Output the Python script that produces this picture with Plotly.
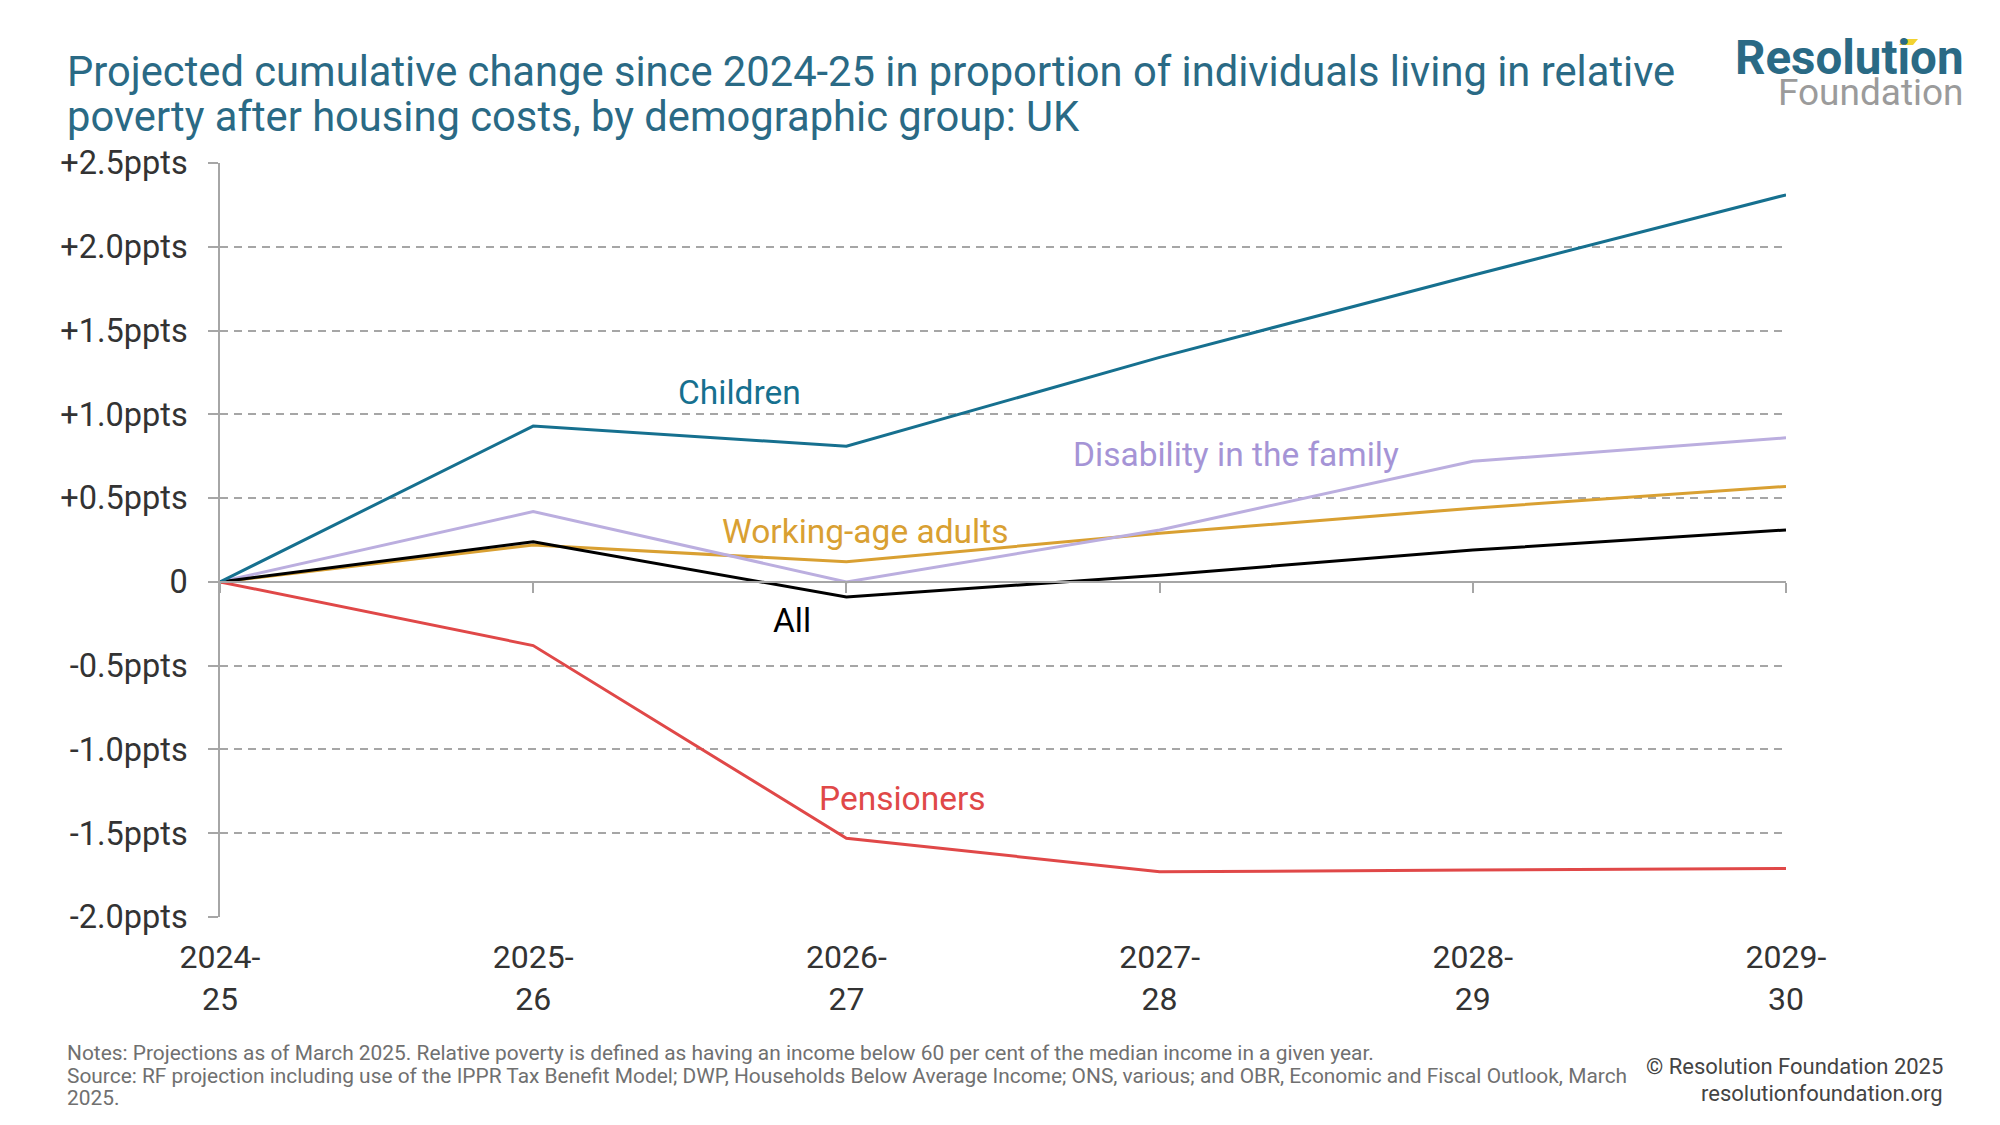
import plotly.graph_objects as go

years = ["2024-25", "2025-26", "2026-27", "2027-28", "2028-29", "2029-30"]
children = [0, 0.93, 0.81, 1.34, 1.83, 2.31]
disability = [0, 0.42, 0.0, 0.31, 0.72, 0.86]
working_age = [0, 0.22, 0.12, 0.29, 0.44, 0.57]
all_people = [0, 0.24, -0.09, 0.04, 0.19, 0.31]
pensioners = [0, -0.38, -1.53, -1.73, -1.72, -1.71]

y_ticks = [2.5, 2.0, 1.5, 1.0, 0.5, 0, -0.5, -1.0, -1.5, -2.0]

def fmt(v):
    if v == 0:
        return "0"
    return ("+" if v > 0 else "-") + f"{abs(v):.1f}ppts"

y_ticktext = [fmt(v) for v in y_ticks]
x_ticktext = [y.replace("-", "-<br>") for y in years]
xi = list(range(len(years)))

W, H = 2000, 1125
L, R, T, B = 212, 222, 155, 216

def px(x):
    return (x - L) / (W - L - R)

def py(y):
    return (H - B - y) / (H - T - B)

FONT = "Roboto"
series = [
    ("Working-age adults", working_age, "#d9a032", "#d9a032", 2.06, 0.30),
    ("Disability in the family", disability, "#bbaedf", "#a594d6", 3.245, 0.763),
    ("All", all_people, "#000000", "#000000", 1.826, -0.233),
    ("Pensioners", pensioners, "#e04848", "#e04848", 2.18, -1.29),
    ("Children", children, "#16708f", "#16708f", 1.66, 1.13),
]

fig = go.Figure()
for name, vals, col, lcol, lx, ly in series:
    fig.add_trace(go.Scatter(x=xi, y=vals, mode="lines", name=name,
                             line=dict(color=col, width=3), showlegend=False))
    fig.add_annotation(x=lx, y=ly, xref="x", yref="y", text=name, showarrow=False,
                       font=dict(family=FONT, size=33.5, color=lcol))

# invisible helper trace for bottom label axis
fig.add_trace(go.Scatter(x=xi, y=all_people, xaxis="x2", mode="lines",
                         line=dict(width=0), opacity=0, showlegend=False, hoverinfo="skip"))

ymin, ymax = -2.0, 2.5
fig.update_layout(
    width=W, height=H,
    paper_bgcolor="white", plot_bgcolor="white",
    margin=dict(l=L, r=R, t=T, b=B),
    font=dict(family=FONT, color="#333333"),
    xaxis=dict(range=[0, 5], anchor="free", position=(0 - ymin) / (ymax - ymin),
               tickmode="array", tickvals=xi, showticklabels=False,
               ticks="outside", ticklen=10, tickwidth=1.5, tickcolor="#a6a6a6",
               showline=True, linecolor="#a6a6a6", linewidth=1.5,
               showgrid=False, zeroline=False, fixedrange=True),
    xaxis2=dict(range=[0, 5], overlaying="x", anchor="y", side="bottom",
                tickmode="array", tickvals=xi, ticktext=x_ticktext,
                ticks="outside", ticklen=12, tickcolor="rgba(0,0,0,0)",
                showline=False, showgrid=False, zeroline=False,
                tickfont=dict(family=FONT, size=32, color="#333333")),
    yaxis=dict(range=[ymin, ymax], tickmode="array", tickvals=y_ticks, ticktext=y_ticktext,
               ticks="outside", ticklen=10, tickwidth=1.5, tickcolor="#a6a6a6",
               ticklabelstandoff=14,
               showline=True, linecolor="#a6a6a6", linewidth=1.5,
               showgrid=True, gridcolor="#a6a6a6", gridwidth=1.5, griddash="8px,6px",
               zeroline=False, tickfont=dict(family=FONT, size=32.5, color="#333333")),
)

def text_at(x, y, text, size, color, xanchor="left", yanchor="middle"):
    fig.add_annotation(x=px(x), y=py(y), xref="paper", yref="paper", text=text, showarrow=False,
                       xanchor=xanchor, yanchor=yanchor, align=xanchor if xanchor != "center" else "center",
                       font=dict(family=FONT, size=size, color=color))

# title
text_at(57, 63, "Projected cumulative change since 2024-25 in proportion of individuals living in relative",
        41.7, "#2a6a85")
text_at(57, 108, "poverty after housing costs, by demographic group: UK", 41.7, "#2a6a85")

# logo (one two-line text block)
text_at(1958, 64,
        "<b><span style='font-size:47.5px;color:#2a6a85'>Resolution</span></b><br>"
        "<span style='font-size:37px;color:#9b9b9b'>Foundation</span>",
        23.5, "#9b9b9b", xanchor="right")
fig.add_shape(type="path", xref="paper", yref="paper", layer="above",
              path=(f"M {px(1891)},{py(37)} L {px(1905)},{py(37)} "
                    f"L {px(1910)},{py(31)} L {px(1896)},{py(31)} Z"),
              fillcolor="#f2d230", line=dict(width=0))

# footer
text_at(57, 1045, "Notes: Projections as of March 2025. Relative poverty is defined as having an income below 60 per cent of the median income in a given year.",
        20.9, "#707070")
text_at(57, 1068, "Source: RF projection including use of the IPPR Tax Benefit Model; DWP, Households Below Average Income; ONS, various; and OBR, Economic and Fiscal Outlook, March",
        20.9, "#707070")
text_at(57, 1090, "2025.", 20.9, "#707070")
text_at(1937, 1058, "© Resolution Foundation 2025", 22, "#444444", xanchor="right")
text_at(1937, 1085, "resolutionfoundation.org", 22, "#444444", xanchor="right")

fig.write_html("out.html")
